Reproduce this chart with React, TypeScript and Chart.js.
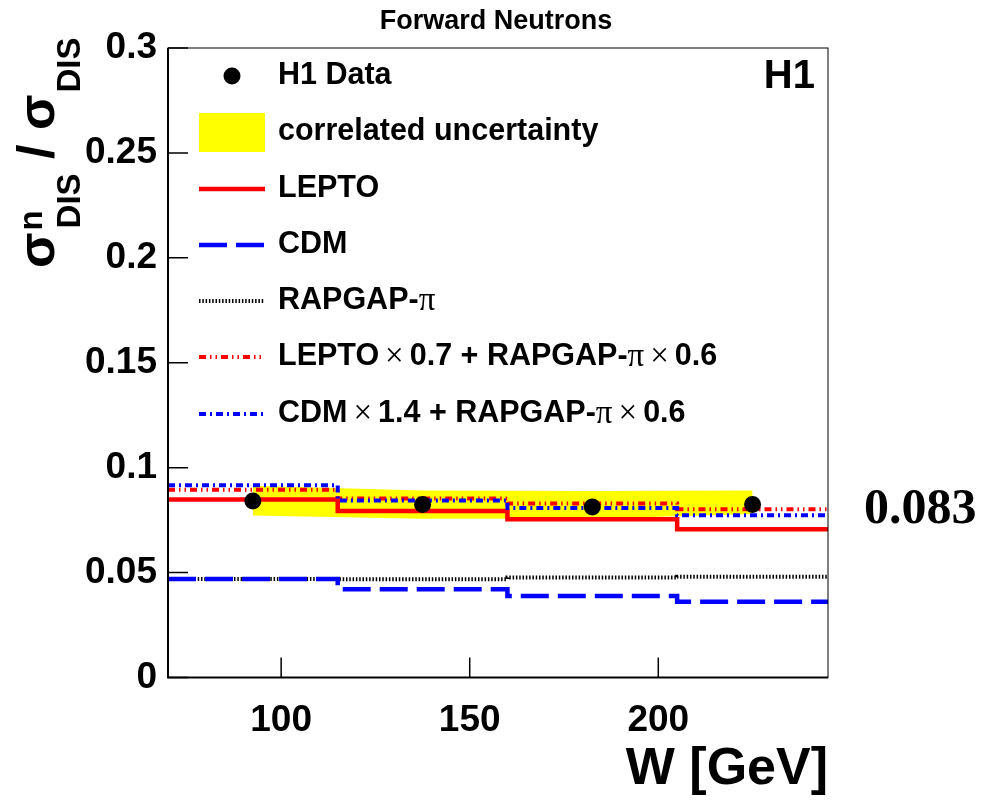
import React, { useEffect, useRef } from 'react';
import { Chart, registerables } from 'chart.js';

Chart.register(...registerables);

// ---------- data ----------
const binEdges = [70, 115, 160, 205, 245];
const dataW = [92.5, 137.5, 182.5, 225];
const dataRatio = [0.0841, 0.0825, 0.0813, 0.0824];
const bandUpper = [0.0914, 0.0891, 0.0889, 0.0891];
const bandLower = [0.0772, 0.0756, 0.0756, 0.0779];
const lepto = [0.0848, 0.0793, 0.0754, 0.0707];
const cdm = [0.047, 0.0421, 0.0388, 0.0361];
const rapgap = [0.0469, 0.0468, 0.0476, 0.048];
const leptoMix = [0.0895, 0.0853, 0.0829, 0.0802];
const cdmMix = [0.0916, 0.0844, 0.0808, 0.0773];
const xTicks = [100, 150, 200];
const xTickLabels = ['100', '150', '200'];
const yTicks = [0, 0.05, 0.1, 0.15, 0.2, 0.25, 0.3];
const yTickLabels = ['0', '0.05', '0.1', '0.15', '0.2', '0.25', '0.3'];
const titleText = 'Forward Neutrons';
const xTitle = 'W [GeV]';
const averageLabel = '0.083';
const experimentLabel = 'H1';

const SANS = '"Liberation Sans", Arial, Helvetica, sans-serif';
const SERIF = '"Liberation Serif", "Times New Roman", serif';

const RED = '#ff0000';
const BLUE = '#0000ff';
const YELLOW = '#ffff00';

const dashCDM = [28, 9];
const dashRap = [1.5, 1.8];
const dashLeptoMix = [7, 4, 1.5, 4, 1.5, 4];
const dashCdmMix = [7, 4, 2, 4];

function stepPoints(vals: number[]) {
  return binEdges.map((x, i) => ({ x, y: vals[Math.min(i, vals.length - 1)] }));
}

type Run = { text?: string; font?: string; gap?: number };

const LEG_FONT = `bold 30.5px ${SANS}`;

function drawRuns(ctx: CanvasRenderingContext2D, x: number, y: number, runs: Run[]) {
  let cx = x;
  for (const r of runs) {
    if (r.gap) { cx += r.gap; continue; }
    ctx.font = r.font || LEG_FONT;
    ctx.fillText(r.text || '', cx, y);
    cx += ctx.measureText(r.text || '').width;
  }
}

const decorPlugin = {
  id: 'decor',
  afterDraw(chart: any) {
    const { ctx, chartArea: a, scales } = chart;
    const xs = scales.x;
    const ys = scales.y;
    ctx.save();
    ctx.strokeStyle = '#000';
    ctx.fillStyle = '#000';
    ctx.setLineDash([]);
    // frame
    ctx.lineWidth = 1;
    ctx.strokeRect(a.left, a.top, a.right - a.left, a.bottom - a.top);
    ctx.lineWidth = 2;
    ctx.beginPath();
    ctx.moveTo(a.left, a.top);
    ctx.lineTo(a.left, a.bottom);
    ctx.lineTo(a.right, a.bottom);
    ctx.stroke();
    // inward ticks
    ctx.lineWidth = 1.5;
    ctx.beginPath();
    yTicks.forEach((v) => {
      const y = ys.getPixelForValue(v);
      ctx.moveTo(a.left, y);
      ctx.lineTo(a.left + 20, y);
    });
    xTicks.forEach((v) => {
      const x = xs.getPixelForValue(v);
      ctx.moveTo(x, a.bottom);
      ctx.lineTo(x, a.bottom - 20);
    });
    ctx.stroke();

    // title
    ctx.textBaseline = 'middle';
    ctx.textAlign = 'center';
    ctx.font = `bold 27px ${SANS}`;
    ctx.fillText(titleText, 496, 22);

    // H1
    ctx.textAlign = 'right';
    ctx.font = `bold 40px ${SANS}`;
    ctx.fillText(experimentLabel, 815, 77);

    // x title
    ctx.font = `bold 52px ${SANS}`;
    ctx.fillText(xTitle, 828, 770);

    // average label
    ctx.textAlign = 'left';
    ctx.font = `bold 50px ${SERIF}`;
    ctx.fillText(averageLabel, 864, 510);

    // y title (rotated)
    ctx.save();
    ctx.translate(54, 268);
    ctx.rotate(-Math.PI / 2);
    ctx.textBaseline = 'alphabetic';
    ctx.textAlign = 'left';
    let cx = 0;
    ctx.font = `bold 52px ${SANS}`;
    ctx.fillText('σ', cx, 0);
    cx += ctx.measureText('σ').width + 2;
    ctx.font = `bold 33px ${SANS}`;
    ctx.fillText('n', cx, -12);
    ctx.fillText('DIS', cx + 2, 26);
    cx += ctx.measureText('DIS').width + 2;
    ctx.font = `bold 52px ${SANS}`;
    ctx.fillText(' / ', cx, 0);
    cx += ctx.measureText(' / ').width;
    ctx.fillText('σ', cx, 0);
    cx += ctx.measureText('σ').width + 2;
    ctx.font = `bold 33px ${SANS}`;
    ctx.fillText('DIS', cx, 26);
    ctx.restore();

    // legend
    const lx0 = 199;
    const lx1 = 265;
    const tx = 278;
    const rows = [76, 132, 189, 245, 301, 357, 414];
    ctx.textAlign = 'left';
    ctx.textBaseline = 'middle';
    ctx.beginPath();
    ctx.arc(232, rows[0], 8.5, 0, Math.PI * 2);
    ctx.fill();
    drawRuns(ctx, tx, rows[0], [{ text: 'H1 Data' }]);
    ctx.fillStyle = YELLOW;
    ctx.fillRect(lx0, 113, lx1 - lx0, 39);
    ctx.fillStyle = '#000';
    drawRuns(ctx, tx, rows[1], [{ text: 'correlated uncertainty' }]);
    const sample = (y: number, color: string, dash: number[], w: number) => {
      ctx.save();
      ctx.strokeStyle = color;
      ctx.lineWidth = w;
      ctx.setLineDash(dash);
      ctx.beginPath();
      ctx.moveTo(lx0, y);
      ctx.lineTo(lx1, y);
      ctx.stroke();
      ctx.restore();
    };
    sample(rows[2], RED, [], 4.5);
    drawRuns(ctx, tx, rows[2], [{ text: 'LEPTO' }]);
    sample(rows[3], BLUE, dashCDM, 4.5);
    drawRuns(ctx, tx, rows[3], [{ text: 'CDM' }]);
    sample(rows[4], '#000', dashRap, 4);
    const pi = `33px ${SERIF}`;
    const times = `33px ${SERIF}`;
    drawRuns(ctx, tx, rows[4], [{ text: 'RAPGAP-' }, { text: 'π', font: pi }]);
    sample(rows[5], RED, dashLeptoMix, 4);
    drawRuns(ctx, tx, rows[5], [
      { text: 'LEPTO' }, { gap: 6 }, { text: '×', font: times }, { gap: 6 },
      { text: '0.7 + RAPGAP-' }, { text: 'π', font: pi }, { gap: 6 },
      { text: '×', font: times }, { gap: 6 }, { text: '0.6' },
    ]);
    sample(rows[6], BLUE, dashCdmMix, 4);
    drawRuns(ctx, tx, rows[6], [
      { text: 'CDM' }, { gap: 6 }, { text: '×', font: times }, { gap: 6 },
      { text: '1.4 + RAPGAP-' }, { text: 'π', font: pi }, { gap: 6 },
      { text: '×', font: times }, { gap: 6 }, { text: '0.6' },
    ]);
    ctx.restore();
  },
};

export default function App() {
  const ref = useRef<HTMLCanvasElement | null>(null);
  useEffect(() => {
    if (!ref.current) return;
    const lineDs = (label: string, vals: number[], color: string, dash: number[], width: number, order: number) => ({
      type: 'line' as const,
      label,
      data: stepPoints(vals),
      borderColor: color,
      borderWidth: width,
      borderDash: dash,
      pointRadius: 0,
      fill: false,
      stepped: 'before' as const,
      order,
    });
    const chart = new Chart(ref.current, {
      type: 'scatter',
      data: {
        datasets: [
          {
            type: 'scatter',
            label: 'H1 Data',
            data: dataW.map((x, i) => ({ x, y: dataRatio[i] })),
            pointRadius: 8.5,
            pointBackgroundColor: '#000',
            pointBorderWidth: 0,
            backgroundColor: '#000',
            order: 0,
          },
          lineDs('CDM × 1.4 + RAPGAP-π × 0.6', cdmMix, BLUE, dashCdmMix, 4, 1),
          lineDs('LEPTO × 0.7 + RAPGAP-π × 0.6', leptoMix, RED, dashLeptoMix, 4, 2),
          lineDs('CDM', cdm, BLUE, dashCDM, 4.5, 3),
          lineDs('RAPGAP-π', rapgap, '#000', dashRap, 4, 4),
          lineDs('LEPTO', lepto, RED, [], 4.5, 5),
          {
            type: 'line',
            label: 'correlated uncertainty',
            data: dataW.map((x, i) => ({ x, y: bandUpper[i] })),
            borderColor: 'rgba(0,0,0,0)',
            borderWidth: 0,
            pointRadius: 0,
            backgroundColor: YELLOW,
            fill: '+1',
            order: 20,
          },
          {
            type: 'line',
            label: 'band lower',
            data: dataW.map((x, i) => ({ x, y: bandLower[i] })),
            borderColor: 'rgba(0,0,0,0)',
            borderWidth: 0,
            pointRadius: 0,
            fill: false,
            order: 21,
          },
        ] as any,
      },
      options: {
        animation: false,
        responsive: true,
        maintainAspectRatio: false,
        layout: { padding: { left: 0, top: 48, right: 162, bottom: 0 } },
        plugins: {
          legend: { display: false },
          tooltip: { enabled: false },
          title: { display: false },
        },
        scales: {
          x: {
            type: 'linear',
            min: 70,
            max: 245,
            grid: { display: false, drawTicks: false },
            border: { display: false },
            afterBuildTicks: (s: any) => { s.ticks = xTicks.map((v) => ({ value: v })); },
            afterFit: (s: any) => { s.height = 124.5; },
            ticks: {
              padding: 21,
              color: '#000',
              font: { family: SANS, size: 37, weight: 'bold' },
              maxRotation: 0,
              autoSkip: false,
              callback: (_v: any, i: number) => xTickLabels[i],
            },
          },
          y: {
            type: 'linear',
            min: 0,
            max: 0.3,
            grid: { display: false, drawTicks: false },
            border: { display: false },
            afterBuildTicks: (s: any) => { s.ticks = yTicks.map((v) => ({ value: v })); },
            afterFit: (s: any) => { s.width = 168; },
            ticks: {
              padding: 11,
              color: '#000',
              font: { family: SANS, size: 37, weight: 'bold' },
              autoSkip: false,
              callback: (_v: any, i: number) => yTickLabels[i],
            },
          },
        },
      } as any,
      plugins: [decorPlugin],
    });
    return () => chart.destroy();
  }, []);
  return (
    <div style={{ position: 'absolute', left: 0, top: 0, width: 990, height: 802, background: '#fff' }}>
      <canvas ref={ref} />
    </div>
  );
}
